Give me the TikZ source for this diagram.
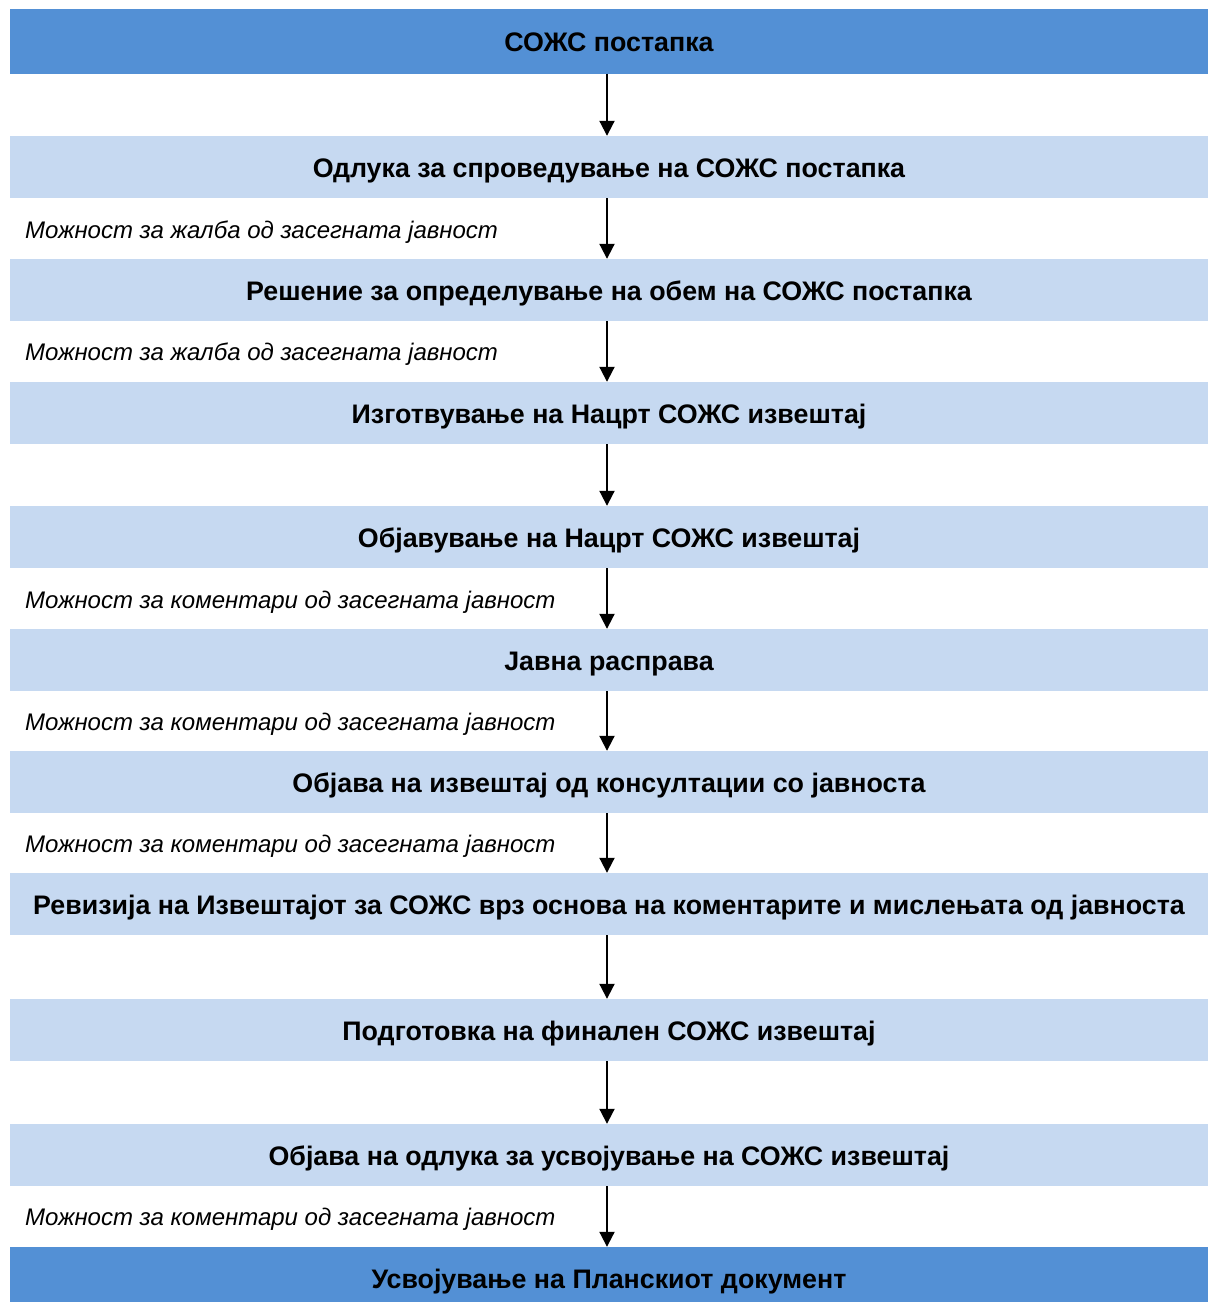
\documentclass[tikz,border=0pt]{standalone}
\usepackage{fontspec}
\setmainfont{Liberation Sans}
\usetikzlibrary{arrows.meta}
\definecolor{headblue}{RGB}{83,144,213}
\definecolor{stepblue}{RGB}{198,217,241}
\begin{document}
\begin{tikzpicture}[x=1pt, y=-1pt,
    stage/.style={rectangle, fill=stepblue, minimum width=1198pt, minimum height=62pt, inner sep=0pt, text height=21pt, text depth=0pt, font=\fontsize{26.8}{30}\selectfont\bfseries},
    keystage/.style={stage, fill=headblue, minimum height=65pt},
    note/.style={anchor=base west, inner sep=0pt, font=\fontsize{24}{28}\selectfont\itshape},
    flow/.style={-{Triangle[length=15pt, width=15pt]}, line width=2pt}]
            \useasboundingbox (0,0) rectangle (1208,1302);

            % Stages of the procedure
            \node[keystage] (S1) at (609,41) {СОЖС постапка};
            \node[stage] (S2) at (609,167) {Одлука за спроведување на СОЖС постапка};
            \node[stage] (S3) at (609,290) {Решение за определување на обем на СОЖС постапка};
            \node[stage] (S4) at (609,413) {Изготвување на Нацрт СОЖС извештај};
            \node[stage] (S5) at (609,537) {Објавување на Нацрт СОЖС извештај};
            \node[stage] (S6) at (609,660) {Јавна расправа};
            \node[stage] (S7) at (609,782) {Објава на извештај од консултации со јавноста};
            \node[stage] (S8) at (609,904) {Ревизија на Извештајот за СОЖС врз основа на коментарите и мислењата од јавноста};
            \node[stage] (S9) at (609,1030) {Подготовка на финален СОЖС извештај};
            \node[stage] (S10) at (609,1155) {Објава на одлука за усвојување на СОЖС извештај};
            \node[keystage, minimum height=62pt] (S11) at (609,1278) {Усвојување на Планскиот документ};

            % Notes on public participation
            \node[note] (N1) at (25,238.5) {Можност за жалба од засегната јавност};
            \node[note] (N2) at (25,360.5) {Можност за жалба од засегната јавност};
            \node[note] (N3) at (25,608.5) {Можност за коментари од засегната јавност};
            \node[note] (N4) at (25,730.5) {Можност за коментари од засегната јавност};
            \node[note] (N5) at (25,852.5) {Можност за коментари од засегната јавност};
            \node[note] (N6) at (25,1225.5) {Можност за коментари од засегната јавност};

            % Arrows between the stages
            \draw[flow] ([xshift=-2pt]S1.south) -- ([xshift=-2pt]S2.north);
            \draw[flow] ([xshift=-2pt]S2.south) -- ([xshift=-2pt]S3.north);
            \draw[flow] ([xshift=-2pt]S3.south) -- ([xshift=-2pt]S4.north);
            \draw[flow] ([xshift=-2pt]S4.south) -- ([xshift=-2pt]S5.north);
            \draw[flow] ([xshift=-2pt]S5.south) -- ([xshift=-2pt]S6.north);
            \draw[flow] ([xshift=-2pt]S6.south) -- ([xshift=-2pt]S7.north);
            \draw[flow] ([xshift=-2pt]S7.south) -- ([xshift=-2pt]S8.north);
            \draw[flow] ([xshift=-2pt]S8.south) -- ([xshift=-2pt]S9.north);
            \draw[flow] ([xshift=-2pt]S9.south) -- ([xshift=-2pt]S10.north);
            \draw[flow] ([xshift=-2pt]S10.south) -- ([xshift=-2pt]S11.north);
        \end{tikzpicture}
\end{document}
